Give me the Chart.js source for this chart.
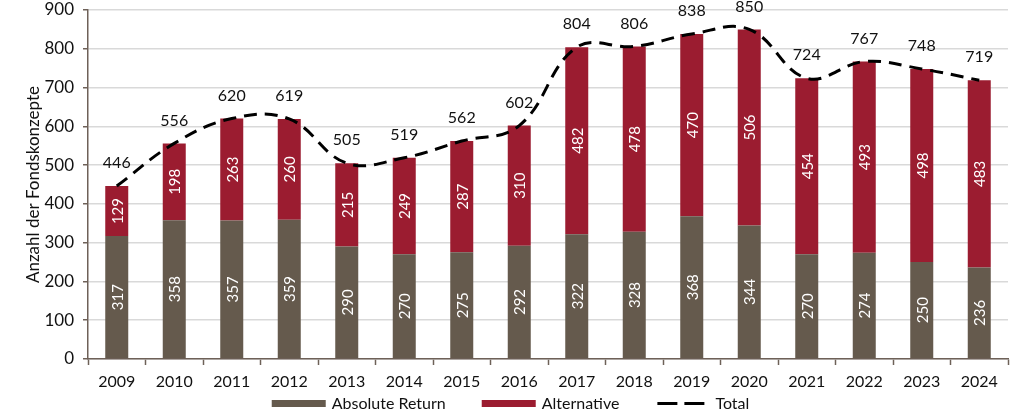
<!DOCTYPE html>
<html>
<head>
<meta charset="utf-8">
<script src="https://cdn.jsdelivr.net/npm/chart.js@4.4.1/dist/chart.umd.min.js"></script>
<style>
  html, body { margin: 0; padding: 0; background: #fff; }
  #wrap { width: 1015px; height: 412px; position: relative; }
</style>
</head>
<body>
<div id="wrap"><canvas id="chart"></canvas></div>
<script>
// data
const years = ['2009', '2010', '2011', '2012', '2013', '2014', '2015', '2016',
               '2017', '2018', '2019', '2020', '2021', '2022', '2023', '2024'];
const absoluteReturn = [317, 358, 357, 359, 290, 270, 275, 292, 322, 328, 368, 344, 270, 274, 250, 236];
const alternative = [129, 198, 263, 260, 215, 249, 287, 310, 482, 478, 470, 506, 454, 493, 498, 483];
const total = [446, 556, 620, 619, 505, 519, 562, 602, 804, 806, 838, 850, 724, 767, 748, 719];
const yTicks = [0, 100, 200, 300, 400, 500, 600, 700, 800, 900];

const FONT = 'Lato, "Open Sans", sans-serif';
const GREY = '#655a4d';
const RED = '#9b1c30';
const AXIS = '#6e6158';

// value labels: rotated white numbers inside bars, totals above
const valueLabels = {
  id: 'valueLabels',
  afterDatasetsDraw(chart) {
    const ctx = chart.ctx;
    ctx.save();
    [0, 1].forEach(di => {
      const meta = chart.getDatasetMeta(di);
      const vals = chart.data.datasets[di].data;
      meta.data.forEach((bar, i) => {
        const { x, y, base } = bar.getProps(['x', 'y', 'base'], true);
        ctx.save();
        ctx.translate(x, (y + base) / 2);
        ctx.rotate(-Math.PI / 2);
        ctx.fillStyle = '#ffffff';
        ctx.font = '15px ' + FONT;
        ctx.textAlign = 'center';
        ctx.textBaseline = 'middle';
        ctx.fillText(String(vals[i]), 0, 1);
        ctx.restore();
      });
    });
    const lineMeta = chart.getDatasetMeta(2);
    ctx.fillStyle = '#111';
    ctx.font = '16px ' + FONT;
    ctx.textAlign = 'center';
    ctx.textBaseline = 'middle';
    lineMeta.data.forEach((pt, i) => {
      ctx.fillText(String(total[i]), pt.x, pt.y - 23);
    });
    ctx.restore();
  }
};

// legend drawn by hand so the spacing can follow the reference
const bottomLegend = {
  id: 'bottomLegend',
  afterDraw(chart) {
    const ctx = chart.ctx;
    const y = 403.5;
    const symW = 54, gapText = 6, gapItem = 36;
    ctx.save();
    ctx.font = '16px ' + FONT;
    ctx.textBaseline = 'middle';
    const items = chart.data.datasets.map((ds, i) => ({
      label: ds.label, i, tw: ctx.measureText(ds.label).width
    }));
    const totalW = items.reduce((s, it) => s + symW + gapText + it.tw, 0) + gapItem * (items.length - 1);
    let x = chart.width / 2 - totalW / 2 + 3;
    items.forEach(it => {
      const ds = chart.data.datasets[it.i];
      if (ds.type === 'bar') {
        ctx.fillStyle = ds.backgroundColor;
        ctx.fillRect(x, y - 3.5, symW, 7);
      } else {
        ctx.fillStyle = '#000';
        ctx.fillRect(x + 2, y - 1.5, 20, 3);
        ctx.fillRect(x + 29, y - 1.5, 20, 3);
      }
      ctx.fillStyle = '#111';
      ctx.fillText(it.label, x + symW + gapText, y);
      x += symW + gapText + it.tw + gapItem;
    });
    ctx.restore();
  }
};

new Chart(document.getElementById('chart'), {
  data: {
    labels: years,
    datasets: [
      {
        type: 'bar',
        label: 'Absolute Return',
        data: absoluteReturn,
        backgroundColor: GREY,
        stack: 's',
        order: 2,
        barPercentage: 0.8,
        categoryPercentage: 0.5
      },
      {
        type: 'bar',
        label: 'Alternative',
        data: alternative,
        backgroundColor: RED,
        stack: 's',
        order: 2,
        barPercentage: 0.8,
        categoryPercentage: 0.5
      },
      {
        type: 'line',
        label: 'Total',
        data: total,
        borderColor: '#000',
        borderWidth: 3,
        borderDash: [13, 8],
        pointRadius: 0,
        tension: 0.4,
        fill: false,
        order: 1
      }
    ]
  },
  options: {
    responsive: true,
    maintainAspectRatio: false,
    animation: false,
    layout: { padding: { top: 10, right: 7, left: 0, bottom: 23 } },
    plugins: {
      tooltip: { enabled: false },
      legend: { display: false }
    },
    scales: {
      x: {
        stacked: true,
        offset: true,
        afterFit(scale) { scale.height = 30; },
        grid: {
          offset: true,
          drawOnChartArea: false,
          tickLength: 6,
          tickColor: AXIS,
          tickWidth: 1.5
        },
        border: { color: AXIS, width: 1.5 },
        ticks: {
          color: '#111',
          font: { family: FONT, size: 16 },
          padding: 7,
          maxRotation: 0
        }
      },
      y: {
        stacked: true,
        min: 0,
        max: 900,
        afterBuildTicks(scale) {
          scale.ticks = yTicks.map(v => ({ value: v }));
        },
        afterFit(scale) {
          scale.width = 88;
          scale.paddingTop = 0;
          scale.paddingBottom = 0;
        },
        grid: {
          color: '#d9d9d9',
          lineWidth: 1.5,
          tickLength: 5,
          tickColor: AXIS
        },
        border: { color: AXIS, width: 1.5 },
        ticks: {
          color: '#111',
          font: { family: FONT, size: 17 },
          padding: 9
        },
        title: {
          display: true,
          text: 'Anzahl der Fondskonzepte',
          color: '#111',
          font: { family: FONT, size: 17 },
          padding: { top: 23, bottom: 0 }
        }
      }
    }
  },
  plugins: [valueLabels, bottomLegend]
});
</script>
</body>
</html>
